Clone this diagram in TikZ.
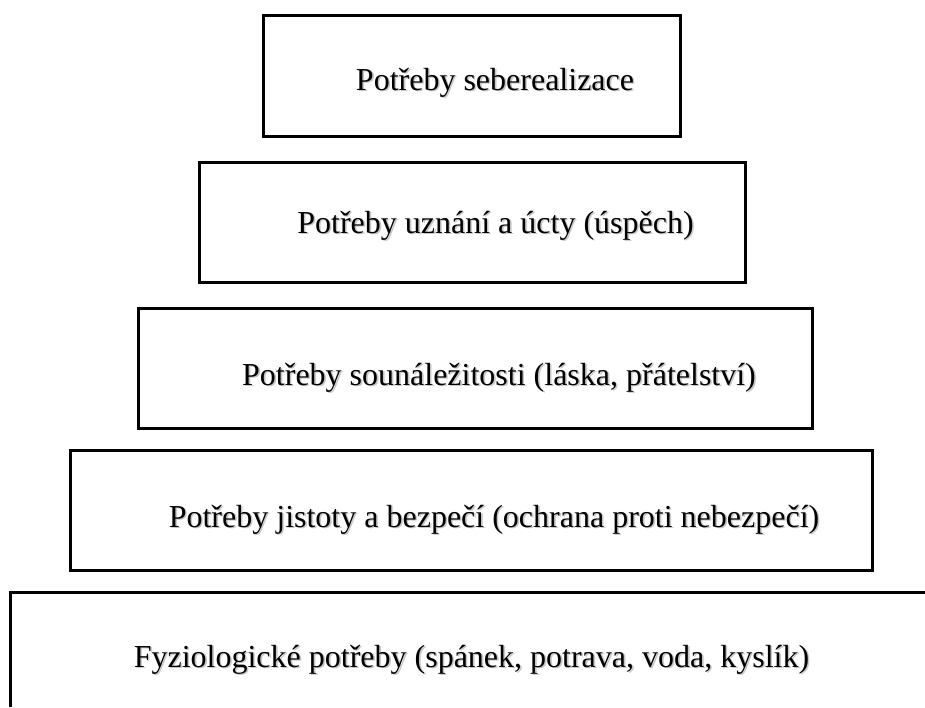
\documentclass[tikz,border=0pt]{standalone}
\usepackage{fontspec}
\setmainfont{Liberation Serif}
\newcommand{\shadowed}[1]{\makebox[0pt][l]{\hspace{0.8pt}\raisebox{-0.8pt}{\textcolor{black!22}{#1}}}#1}

\begin{document}
\begin{tikzpicture}[x=0.5pt, y=-0.5pt,
			level/.style = {shape=rectangle, draw, line width=1.5pt,
				inner sep=0pt, minimum height=60pt},
			need/.style = {anchor=base, inner sep=0pt,
				font=\fontsize{16}{19}\selectfont}]
			\useasboundingbox (0,0) rectangle (925,707);
			% the four closed levels
			\node[level, minimum width=208.5pt, minimum height=60.5pt] (seberealizace) at (471.5,75.5) {};
			\node[level, minimum width=273pt] (uznani) at (472,222) {};
			\node[level, minimum width=337pt] (sounalezitost) at (475,368) {};
			\node[level, minimum width=401pt] (jistota) at (471,510) {};
			% the bottom level runs out of the picture
			\coordinate (fyzioRight) at (925,592);
			\coordinate (fyzioCorner) at (10,592);
			\coordinate (fyzioDown) at (10,707);
			\draw[line width=1.5pt] (fyzioRight) -- (fyzioCorner) -- (fyzioDown);
			% texts
			\node[need] (tSeberealizace) at (495,90) {\shadowed{Potřeby seberealizace}};
			\node[need] (tUznani) at (495.5,233) {\shadowed{Potřeby uznání a úcty (úspěch)}};
			\node[need] (tSounalezitost) at (499,385) {\shadowed{Potřeby sounáležitosti (láska, přátelství)}};
			\node[need] (tJistota) at (494,527) {\shadowed{Potřeby jistoty a bezpečí (ochrana proti nebezpečí)}};
			\node[need] (tFyzio) at (471.5,667) {\shadowed{Fyziologické potřeby (spánek, potrava, voda, kyslík)}};
		\end{tikzpicture}
\end{document}
